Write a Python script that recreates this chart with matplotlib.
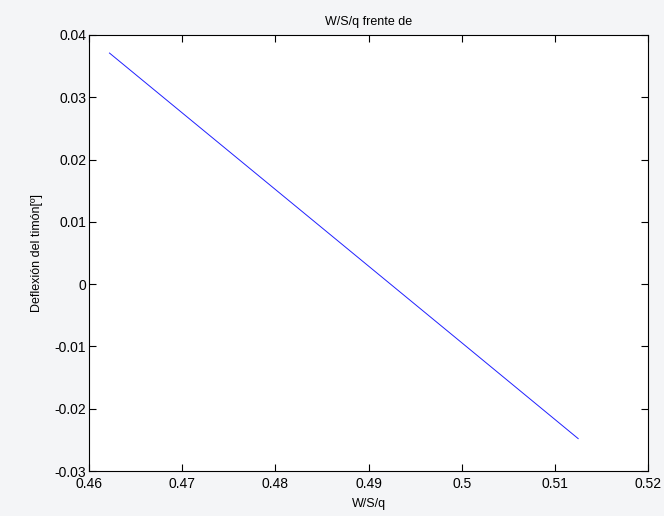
import matplotlib
matplotlib.use('Agg')
import matplotlib.pyplot as plt

# W/S/q vs rudder deflection
ws_q = [0.4622, 0.4700, 0.4800, 0.4900, 0.5000, 0.5125]
deflexion = [0.0371, 0.0275, 0.0152, 0.0029, -0.0094, -0.0248]

xticks = [0.46, 0.47, 0.48, 0.49, 0.5, 0.51, 0.52]
xticklabels = ['0.46', '0.47', '0.48', '0.49', '0.5', '0.51', '0.52']
yticks = [-0.03, -0.02, -0.01, 0, 0.01, 0.02, 0.03, 0.04]
yticklabels = ['-0.03', '-0.02', '-0.01', '0', '0.01', '0.02', '0.03', '0.04']

plt.rcParams['font.family'] = ['Liberation Sans', 'DejaVu Sans']
plt.rcParams['font.size'] = 9

fig = plt.figure(figsize=(6.64, 5.16), dpi=100, facecolor='#f4f5f7')
ax = fig.add_axes([0.134, 0.0872, 0.842, 0.845])
ax.plot(ws_q, deflexion, color='#2020ff', linewidth=0.7)

ax.set_xlim(0.46, 0.52)
ax.set_ylim(-0.03, 0.04)
ax.set_xticks(xticks)
ax.set_xticklabels(xticklabels)
ax.set_yticks(yticks)
ax.set_yticklabels(yticklabels)
ax.tick_params(direction='in', top=True, right=True, length=5, width=0.8,
               labelsize=10, pad=2)
ax.tick_params(axis='x', pad=4)
for s in ax.spines.values():
    s.set_linewidth(0.8)

ax.set_title('W/S/q frente de', fontsize=9, pad=7)
ax.set_xlabel('W/S/q', fontsize=9, labelpad=5)
ax.set_ylabel('Deflexión del timón[º]', fontsize=9, labelpad=8)

fig.savefig('out.png', dpi=100, facecolor=fig.get_facecolor())
